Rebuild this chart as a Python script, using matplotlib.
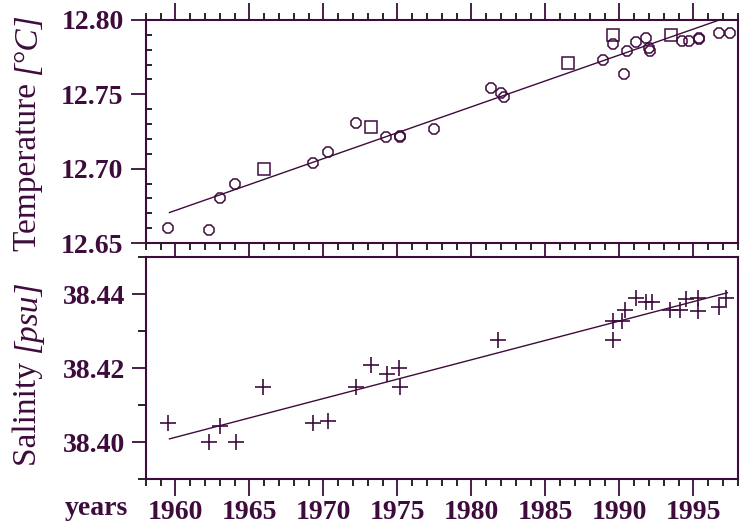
import matplotlib
matplotlib.use("Agg")
import matplotlib.pyplot as plt
from matplotlib.ticker import MultipleLocator

plt.rcParams['font.family'] = ['Liberation Serif', 'DejaVu Serif']

ink = '#3d0c3d'

# temperature samples (octagons) and squares
temp_years = [1959.5, 1962.3, 1963.0, 1964.0, 1969.3, 1970.3, 1972.2, 1974.2,
              1975.2, 1975.2, 1977.5, 1981.3, 1982.0, 1982.2, 1988.9, 1989.6,
              1990.3, 1990.5, 1991.1, 1991.8, 1992.0, 1992.1, 1994.2, 1994.7,
              1995.4, 1995.4, 1996.7, 1997.5]
temp_vals = [12.660, 12.659, 12.680, 12.690, 12.704, 12.711, 12.731, 12.721,
             12.722, 12.721, 12.727, 12.754, 12.751, 12.748, 12.773, 12.784,
             12.764, 12.779, 12.785, 12.788, 12.781, 12.779, 12.786, 12.786,
             12.788, 12.787, 12.791, 12.791]
temp_sq_years = [1966.0, 1973.2, 1986.5, 1989.6, 1993.5]
temp_sq_vals = [12.700, 12.728, 12.771, 12.790, 12.790]
temp_trend_years = [1959.6, 1997.5]
temp_trend_vals = [12.6705, 12.8026]

# salinity samples
sal_years = [1959.5, 1962.3, 1963.0, 1964.1, 1965.9, 1969.3, 1970.3, 1972.2,
             1973.2, 1974.3, 1975.1, 1975.2, 1981.8, 1989.6, 1989.6, 1990.2,
             1990.4, 1991.1, 1991.8, 1992.2, 1993.4, 1994.1, 1994.5, 1995.3,
             1995.3, 1996.7, 1997.2]
sal_vals = [38.4052, 38.400, 38.4043, 38.400, 38.415, 38.4052, 38.4056, 38.415,
            38.4208, 38.4184, 38.420, 38.4148, 38.4277, 38.4277, 38.4327, 38.4327,
            38.4357, 38.439, 38.4378, 38.4378, 38.4357, 38.4357, 38.4387, 38.439,
            38.4355, 38.4366, 38.439]
sal_trend_years = [1959.6, 1997.3]
sal_trend_vals = [38.4009, 38.4404]

x_ticks = [1960, 1965, 1970, 1975, 1980, 1985, 1990, 1995]
temp_ticks = [12.65, 12.70, 12.75, 12.80]
sal_ticks = [38.40, 38.42, 38.44]

fig = plt.figure(figsize=(7.4, 5.26), dpi=100)
ax1 = fig.add_axes([0.197, 0.538, 0.800, 0.424])
ax2 = fig.add_axes([0.197, 0.089, 0.800, 0.422])

ax1.plot(temp_years, temp_vals, '8', mfc='none', mec=ink, ms=8.5, mew=1.1)
ax1.plot(temp_sq_years, temp_sq_vals, 's', mfc='none', mec=ink, ms=8, mew=1.1)
ax1.plot(temp_trend_years, temp_trend_vals, color=ink, lw=1.0)

ax2.plot(sal_years, sal_vals, '+', color=ink, ms=11, mew=1.2)
ax2.plot(sal_trend_years, sal_trend_vals, color=ink, lw=1.0)

for ax in (ax1, ax2):
    ax.set_xlim(1958, 1998)
    ax.xaxis.set_major_locator(MultipleLocator(5))
    ax.xaxis.set_minor_locator(MultipleLocator(1))
    for s in ax.spines.values():
        s.set_color(ink)
        s.set_linewidth(1.5)
    ax.tick_params(colors=ink, width=1.3)
    ax.tick_params(which='minor', width=1.2)

ax1.set_ylim(12.65, 12.80)
ax1.set_yticks(temp_ticks)
ax1.set_yticklabels(['%.2f' % v for v in temp_ticks])
ax1.yaxis.set_minor_locator(MultipleLocator(0.01))
ax1.tick_params(axis='x', which='both', top=True, bottom=True, labelbottom=False, direction='out')
ax1.tick_params(axis='x', which='major', length=12)
ax1.tick_params(axis='x', which='minor', length=5)
ax1.tick_params(axis='y', which='major', direction='out', length=11)
ax1.tick_params(axis='y', which='minor', direction='in', length=4)

ax2.set_ylim(38.39, 38.45)
ax2.set_yticks(sal_ticks)
ax2.set_yticklabels(['%.2f' % v for v in sal_ticks])
ax2.yaxis.set_minor_locator(MultipleLocator(0.01))
ax2.set_xticks(x_ticks)
ax2.tick_params(axis='x', which='both', top=False, bottom=True, direction='out')
ax2.tick_params(axis='x', which='major', length=12)
ax2.tick_params(axis='x', which='minor', length=5)
ax2.tick_params(axis='y', which='major', direction='out', length=10)
ax2.tick_params(axis='y', which='minor', direction='out', length=6)

for ax in (ax1, ax2):
    for lab in ax.get_xticklabels() + ax.get_yticklabels():
        lab.set_fontsize(20)
        lab.set_fontweight('bold')
        lab.set_color(ink)
    ax.tick_params(axis='y', pad=5)
    ax.tick_params(axis='x', pad=3)

# y labels: plain word, then the unit in italics stacked after it
t1 = fig.text(0.038, 0.522, 'Temperature ', rotation=90, ha='center',
              va='bottom', fontsize=24, color=ink)
s1 = fig.text(0.038, 0.115, 'Salinity ', rotation=90, ha='center',
              va='bottom', fontsize=24, color=ink)

fig.canvas.draw()
r = fig.canvas.get_renderer()
inv = fig.transFigure.inverted()
for word, unit in ((t1, '[°C]'), (s1, '[psu]')):
    bb = word.get_window_extent(r)
    top = inv.transform((bb.x0, bb.y1))[1]
    fig.text(0.038, top, unit, rotation=90, ha='center', va='bottom',
             fontsize=24, color=ink, style='italic')

fig.text(0.088, 0.02, 'years', fontsize=20, fontweight='bold', color=ink)

fig.savefig('out.png', dpi=100)
